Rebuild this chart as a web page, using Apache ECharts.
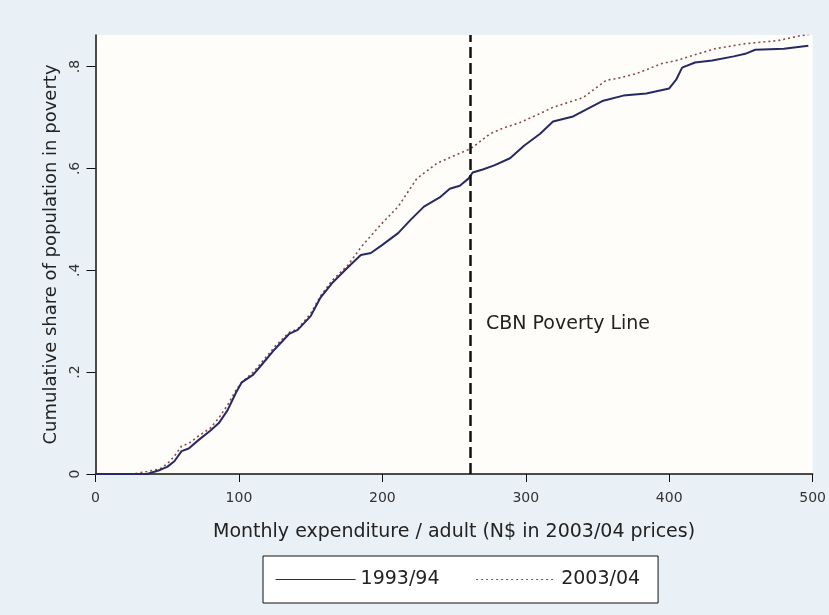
<!DOCTYPE html>
<html>
<head>
<meta charset="utf-8">
<title>Cumulative share of population in poverty</title>
<script src="https://cdn.jsdelivr.net/npm/echarts@6/dist/echarts.min.js"></script>
<style>
  html, body { margin: 0; padding: 0; background: #e9f1f6; }
  #chart { width: 829px; height: 615px; }
</style>
</head>
<body>
<div id="chart"></div>
<script>
// monthly expenditure per adult (N$) -> cumulative share in poverty
var x9394 = [0, 36, 45, 50, 55, 60, 65, 72, 80, 86, 92, 98, 102, 110, 116, 125, 135, 141, 150, 157, 165, 176, 185, 192, 200, 211, 220, 229, 240, 247, 254, 260, 263, 270, 278, 289, 299, 310, 319, 333, 345, 354, 368, 384, 400, 405, 409, 418, 430, 445, 453, 460, 480, 497];
var y9394 = [0, 0, 0.008, 0.014, 0.025, 0.045, 0.05, 0.067, 0.085, 0.10, 0.125, 0.16, 0.18, 0.195, 0.215, 0.245, 0.275, 0.283, 0.31, 0.347, 0.375, 0.406, 0.43, 0.434, 0.45, 0.473, 0.50, 0.525, 0.543, 0.56, 0.566, 0.58, 0.592, 0.598, 0.606, 0.62, 0.645, 0.668, 0.692, 0.702, 0.72, 0.733, 0.743, 0.747, 0.757, 0.775, 0.798, 0.808, 0.812, 0.82, 0.825, 0.833, 0.835, 0.841];

var x0304 = [0, 26, 36, 45, 50, 55, 60, 65, 72, 80, 86, 92, 98, 102, 110, 116, 125, 135, 141, 150, 157, 165, 176, 185, 199, 211, 224, 238, 250, 261, 266, 275, 285, 296, 310, 319, 330, 340, 356, 366, 377, 395, 405, 420, 432, 453, 476, 492, 497];
var y0304 = [0, 0, 0.005, 0.01, 0.02, 0.035, 0.055, 0.06, 0.075, 0.09, 0.11, 0.135, 0.165, 0.18, 0.2, 0.22, 0.25, 0.278, 0.285, 0.315, 0.35, 0.38, 0.41, 0.445, 0.49, 0.525, 0.58, 0.61, 0.625, 0.638, 0.648, 0.668, 0.68, 0.69, 0.708, 0.72, 0.73, 0.739, 0.773, 0.778, 0.786, 0.806, 0.812, 0.825, 0.835, 0.845, 0.851, 0.861, 0.862];

var povertyLine = 261;
var xTicks = [0, 100, 200, 300, 400, 500];
var yTicks = [0, 0.2, 0.4, 0.6, 0.8];
var yTickLabels = ['0', '.2', '.4', '.6', '.8'];

function pairs(xs, ys) {
  var out = [];
  for (var i = 0; i < xs.length; i++) {
    out.push([xs[i], ys[i]]);
  }
  return out;
}

var font = 'DejaVu Sans';
var myChart = echarts.init(document.getElementById('chart'));
var option = {
  animation: false,
  backgroundColor: '#e9f1f6',
  grid: {
    left: 95.5,
    right: 11,
    top: 35,
    bottom: 141,
    show: true,
    backgroundColor: '#fefdfa',
    borderWidth: 0
  },
  graphic: [{
    type: 'text',
    left: 486,
    top: 315,
    style: {
      text: 'CBN Poverty Line',
      font: '19px "DejaVu Sans"',
      fill: '#222'
    }
  }],
  legend: {
    left: 263,
    top: 556,
    itemWidth: 80,
    itemHeight: 12,
    itemGap: 36,
    padding: [14, 18, 14, 12],
    backgroundColor: '#ffffff',
    borderColor: '#111',
    borderWidth: 1,
    borderRadius: 0,
    itemStyle: { opacity: 0 },
    lineStyle: { width: 1.2 },
    textStyle: { fontFamily: font, fontSize: 19, color: '#222' },
    data: ['1993/94', '2003/04']
  },
  xAxis: {
    type: 'value',
    min: 0,
    max: 500,
    interval: 100,
    name: 'Monthly expenditure / adult (N$ in 2003/04 prices)',
    nameLocation: 'middle',
    nameGap: 49,
    nameTextStyle: { fontFamily: font, fontSize: 19, color: '#222' },
    splitLine: { show: false },
    axisLine: { lineStyle: { color: '#111', width: 1.5 } },
    axisTick: { length: 8, lineStyle: { color: '#111' } },
    axisLabel: {
      margin: 17,
      fontFamily: font,
      fontSize: 14,
      color: '#333',
      customValues: xTicks
    }
  },
  yAxis: {
    type: 'value',
    min: 0,
    max: 0.862,
    name: 'Cumulative share of population in poverty',
    nameLocation: 'middle',
    nameGap: 23,
    nameRotate: 90,
    nameTextStyle: { fontFamily: font, fontSize: 18, color: '#222' },
    splitLine: { show: false },
    axisLine: { show: true, lineStyle: { color: '#111', width: 1.5 } },
    axisTick: { show: true, length: 9, lineStyle: { color: '#111' }, customValues: yTicks },
    axisLabel: {
      rotate: 90,
      margin: 13,
      fontFamily: font,
      fontSize: 14,
      color: '#333',
      customValues: yTicks,
      formatter: function(v) {
        var i = yTicks.indexOf(v);
        return i >= 0 ? yTickLabels[i] : '';
      }
    }
  },
  series: [{
      name: '1993/94',
      type: 'line',
      symbol: 'none',
      color: '#272a62',
      lineStyle: { color: '#272a62', width: 2 },
      data: pairs(x9394, y9394),
      z: 3,
      markLine: {
        silent: true,
        symbol: 'none',
        label: { show: false },
        lineStyle: { color: '#111', type: [11, 5], width: 2.5 },
        data: [{ xAxis: povertyLine }]
      }
    },
    {
      name: '2003/04',
      type: 'line',
      symbol: 'none',
      color: '#8a4a4a',
      lineStyle: { color: '#8a4a4a', width: 1.6, type: [2, 3] },
      data: pairs(x0304, y0304),
      z: 2
    }
  ]
};
myChart.setOption(option);
</script>
</body>
</html>
